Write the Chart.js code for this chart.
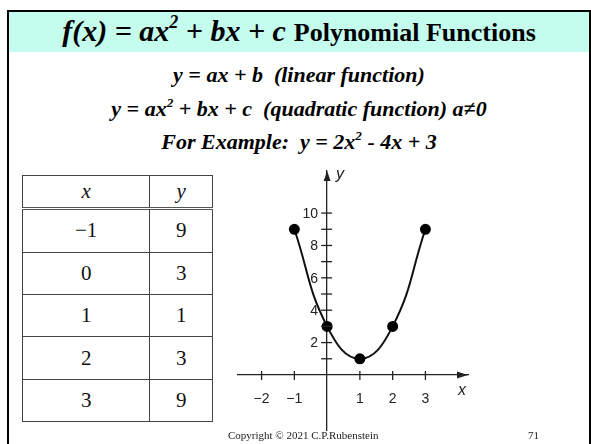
<!DOCTYPE html>
<html>
<head>
<meta charset="utf-8">
<script src="https://cdn.jsdelivr.net/npm/chart.js@4/dist/chart.umd.min.js"></script>
<style>
  html, body { margin: 0; padding: 0; background: #fff; }
  body { width: 591px; height: 444px; position: relative; overflow: hidden; }
  .slide { position: absolute; left: 7px; top: 10px; width: 584px; height: 460px;
           border: 2.5px solid #000; box-sizing: border-box; }
  .band { position: absolute; left: 9px; top: 12px; width: 580px; height: 40px; background: #c4fcee;
          text-align: center; font-family: "Liberation Serif", "Times New Roman", serif;
          font-weight: bold; color: #000; white-space: nowrap; }
  .band .eq { font-style: italic; font-size: 30px; line-height: 38px; }
  .band .name { font-size: 26px; }
  sup { font-size: 60%; line-height: 0; vertical-align: 0.7em; }
  .line { position: absolute; left: 9px; width: 580px; text-align: center; white-space: nowrap;
          font-family: "Liberation Serif", "Times New Roman", serif; font-weight: bold; font-style: italic;
          font-size: 22px; color: #000; }
  table { position: absolute; left: 22px; top: 175px; width: 191px; height: 247px;
          border-collapse: collapse; font-family: "Liberation Serif", "DejaVu Serif", serif;
          font-size: 21px; color: #111; }
  td, th { border: 1.3px solid #444; text-align: center; padding: 0; font-weight: normal; }
  th { font-style: italic; height: 31px; border-bottom: 3.5px double #555; }
  .footer { position: absolute; top: 429px; font-family: "Liberation Serif", serif; font-size: 11px; color: #222; }
  #chartBox { position: absolute; left: 230px; top: 160px; width: 260px; height: 284px; }
</style>
</head>
<body>
<div class="slide"></div>
<div class="band"><span class="eq">f(x) = ax<sup>2</sup> + bx + c</span>&nbsp;&nbsp;<span class="name">Polynomial Functions</span></div>
<div class="line" style="top:62px">y = ax + b&nbsp;&nbsp;(linear function)</div>
<div class="line" style="top:96px">y = ax<sup>2</sup> + bx + c&nbsp;&nbsp;(quadratic function) a≠0</div>
<div class="line" style="top:129px">For Example:&nbsp;&nbsp;y = 2x<sup>2</sup> - 4x + 3</div>

<table id="valTable"></table>

<div id="chartBox"><canvas id="parabolaChart"></canvas></div>

<div class="footer" style="left:228px">Copyright © 2021 C.P.Rubenstein</div>
<div class="footer" style="left:528px">71</div>

<script>
// ========== DATA ==========
const xValues = [-1, 0, 1, 2, 3];
const yValues = [9, 3, 1, 3, 9];
const xTickValues = [-2, -1, 1, 2, 3];
const yTickValues = [1, 2, 3, 4, 5, 6, 7, 8, 9, 10];
const yTickLabels = [2, 4, 6, 8, 10];

function fmt(v) {
    return v < 0 ? '\u2212' + Math.abs(v) : String(v);
}

// ========== TABLE ==========
function buildTable() {
    const tbl = document.getElementById('valTable');
    let html = '<tr><th>x</th><th>y</th></tr>';
    xValues.forEach((x, i) => {
        html += `<tr><td>${fmt(x)}</td><td>${yValues[i]}</td></tr>`;
    });
    tbl.innerHTML = html;
}

// ========== AXIS DECORATION ==========
const axisDeco = {
    id: 'axisDeco',
    afterDraw(chart) {
        const ctx = chart.ctx;
        const sx = chart.scales.x, sy = chart.scales.y;
        const ax = sx.getPixelForValue(0);
        const ay = sy.getPixelForValue(0);
        const area = chart.chartArea;
        ctx.save();
        ctx.strokeStyle = '#222';
        ctx.fillStyle = '#222';
        ctx.lineWidth = 1.3;

        // tick marks crossing the axes
        sx.ticks.forEach(t => {
            const px = sx.getPixelForValue(t.value);
            ctx.beginPath();
            ctx.moveTo(px, ay - 4);
            ctx.lineTo(px, ay + 5);
            ctx.stroke();
        });
        sy.ticks.forEach(t => {
            const py = sy.getPixelForValue(t.value);
            ctx.beginPath();
            ctx.moveTo(ax - 6, py);
            ctx.lineTo(ax + 5, py);
            ctx.stroke();
        });

        // y tick labels, left of the axis
        ctx.font = '14px "Liberation Sans", Arial, sans-serif';
        ctx.textAlign = 'right';
        ctx.textBaseline = 'middle';
        sy.ticks.forEach(t => {
            if (yTickLabels.includes(t.value)) {
                ctx.fillText(String(t.value), ax - 9, sy.getPixelForValue(t.value) + 1);
            }
        });

        // arrow heads
        ctx.beginPath();
        ctx.moveTo(ax, area.top);
        ctx.lineTo(ax - 3.5, area.top + 10);
        ctx.lineTo(ax + 3.5, area.top + 10);
        ctx.closePath();
        ctx.fill();

        ctx.beginPath();
        ctx.moveTo(area.right, ay);
        ctx.lineTo(area.right - 11, ay - 3.5);
        ctx.lineTo(area.right - 11, ay + 3.5);
        ctx.closePath();
        ctx.fill();

        // axis names
        ctx.font = 'italic 16px "Liberation Sans", Arial, sans-serif';
        ctx.textBaseline = 'alphabetic';
        ctx.textAlign = 'left';
        ctx.fillText('y', ax + 9, area.top + 8);
        ctx.fillText('x', area.right - 10, ay + 20);
        ctx.restore();
    }
};

function noPad(s) {
    s.paddingTop = 0;
    s.paddingBottom = 0;
    s.paddingLeft = 0;
    s.paddingRight = 0;
}

// ========== CHART ==========
function createChart() {
    const ctx = document.getElementById('parabolaChart');
    if (!ctx) return;

    window.parabolaChart = new Chart(ctx, {
        type: 'scatter',
        data: {
            datasets: [{
                data: xValues.map((x, i) => ({ x: x, y: yValues[i] })),
                showLine: true,
                borderColor: '#111',
                borderWidth: 2,
                tension: 0.45,
                pointRadius: 4.5,
                pointBackgroundColor: '#000',
                pointBorderColor: '#000'
            }]
        },
        options: {
            responsive: true,
            maintainAspectRatio: false,
            animation: false,
            layout: { padding: { left: 8, right: 22, top: 11, bottom: 14 } },
            plugins: {
                legend: { display: false },
                tooltip: { enabled: false }
            },
            scales: {
                x: {
                    type: 'linear',
                    min: -2.72,
                    max: 4.3,
                    position: { y: 0 },
                    grid: { display: false, drawTicks: false },
                    border: { display: true, color: '#222', width: 1.3 },
                    afterBuildTicks: s => { s.ticks = xTickValues.map(v => ({ value: v })); },
                    afterFit: s => { s.height = 0; noPad(s); },
                    ticks: {
                        padding: 16,
                        color: '#222',
                        font: { family: '"Liberation Sans", Arial, sans-serif', size: 14 },
                        callback: v => fmt(v)
                    }
                },
                y: {
                    type: 'linear',
                    min: -3.4,
                    max: 12.6,
                    position: { x: 0 },
                    grid: { display: false, drawTicks: false },
                    border: { display: true, color: '#222', width: 1.3 },
                    afterBuildTicks: s => { s.ticks = yTickValues.map(v => ({ value: v })); },
                    afterFit: s => { s.width = 0; noPad(s); },
                    ticks: { display: false }
                }
            }
        },
        plugins: [axisDeco]
    });
}

document.addEventListener('DOMContentLoaded', function() {
    buildTable();
    createChart();
});
</script>
</body>
</html>
